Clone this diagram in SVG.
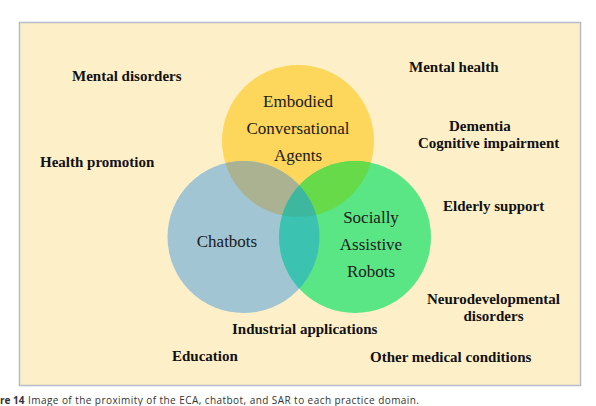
<svg xmlns="http://www.w3.org/2000/svg" width="596" height="406" viewBox="0 0 596 406">
<style>
.lbl{font-family:"Liberation Serif","Times New Roman",serif;font-weight:bold;font-size:15px;fill:#111}
.ctr{font-family:"Liberation Serif","Times New Roman",serif;font-size:17px;fill:#1a1a1a;text-anchor:middle}
.cap{font-family:"Open Sans","Noto Sans",sans-serif;font-size:10px;fill:#333}
</style>
<defs>
<clipPath id="cY"><circle cx="298" cy="141" r="76"/></clipPath>
<clipPath id="cB"><circle cx="243.5" cy="237" r="76"/></clipPath>
</defs>
<rect x="19.5" y="22.5" width="561" height="363" fill="#fdf0c9" stroke="#b5bcc7" stroke-width="1.5"/>
<g id="circles">
<g id="eca"><circle cx="298" cy="141" r="76" fill="#fdd65c"/></g>
<g id="chatbots"><circle cx="243.5" cy="237" r="76" fill="#a1c5d3"/></g>
<g id="sar"><circle cx="355" cy="237" r="76" fill="#5be686"/></g>
<g id="overlaps">
<circle cx="243.5" cy="237" r="76" fill="#aab291" clip-path="url(#cY)"/>
<circle cx="355" cy="237" r="76" fill="#66da48" clip-path="url(#cY)"/>
<circle cx="355" cy="237" r="76" fill="#3cc2b0" clip-path="url(#cB)"/>
<g clip-path="url(#cY)"><circle cx="355" cy="237" r="76" fill="#3eb79f" clip-path="url(#cB)"/></g>
</g>
<text class="ctr" x="298" y="107">Embodied</text>
<text class="ctr" x="298" y="134">Conversational</text>
<text class="ctr" x="298" y="161">Agents</text>
<text class="ctr" x="227" y="247">Chatbots</text>
<text class="ctr" x="371" y="223">Socially</text>
<text class="ctr" x="371" y="250">Assistive</text>
<text class="ctr" x="371" y="277">Robots</text>
</g>
<g id="connectors"/>
<g id="domains">
<g id="d-mental-disorders"><text class="lbl" x="72" y="81">Mental disorders</text></g>
<g id="d-mental-health"><text class="lbl" x="409" y="72">Mental health</text></g>
<g id="d-health-promotion"><text class="lbl" x="40" y="167">Health promotion</text></g>
<g id="d-dementia"><text class="lbl" x="449" y="131">Dementia</text><text class="lbl" x="418" y="148">Cognitive impairment</text></g>
<g id="d-elderly"><text class="lbl" x="443" y="211">Elderly support</text></g>
<g id="d-neuro"><text class="lbl" x="493.5" y="303.5" text-anchor="middle">Neurodevelopmental</text><text class="lbl" x="493.5" y="321" text-anchor="middle">disorders</text></g>
<g id="d-industrial"><text class="lbl" x="232" y="333.5">Industrial applications</text></g>
<g id="d-education"><text class="lbl" x="172" y="361">Education</text></g>
<g id="d-other"><text class="lbl" x="370" y="362">Other medical conditions</text></g>
</g>
<text class="cap" x="0" y="403.5" font-weight="bold" fill="#1f3c7a">re 14</text>
<text class="cap" x="28" y="403.5" textLength="391" lengthAdjust="spacing">Image of the proximity of the ECA, chatbot, and SAR to each practice domain.</text>
</svg>
